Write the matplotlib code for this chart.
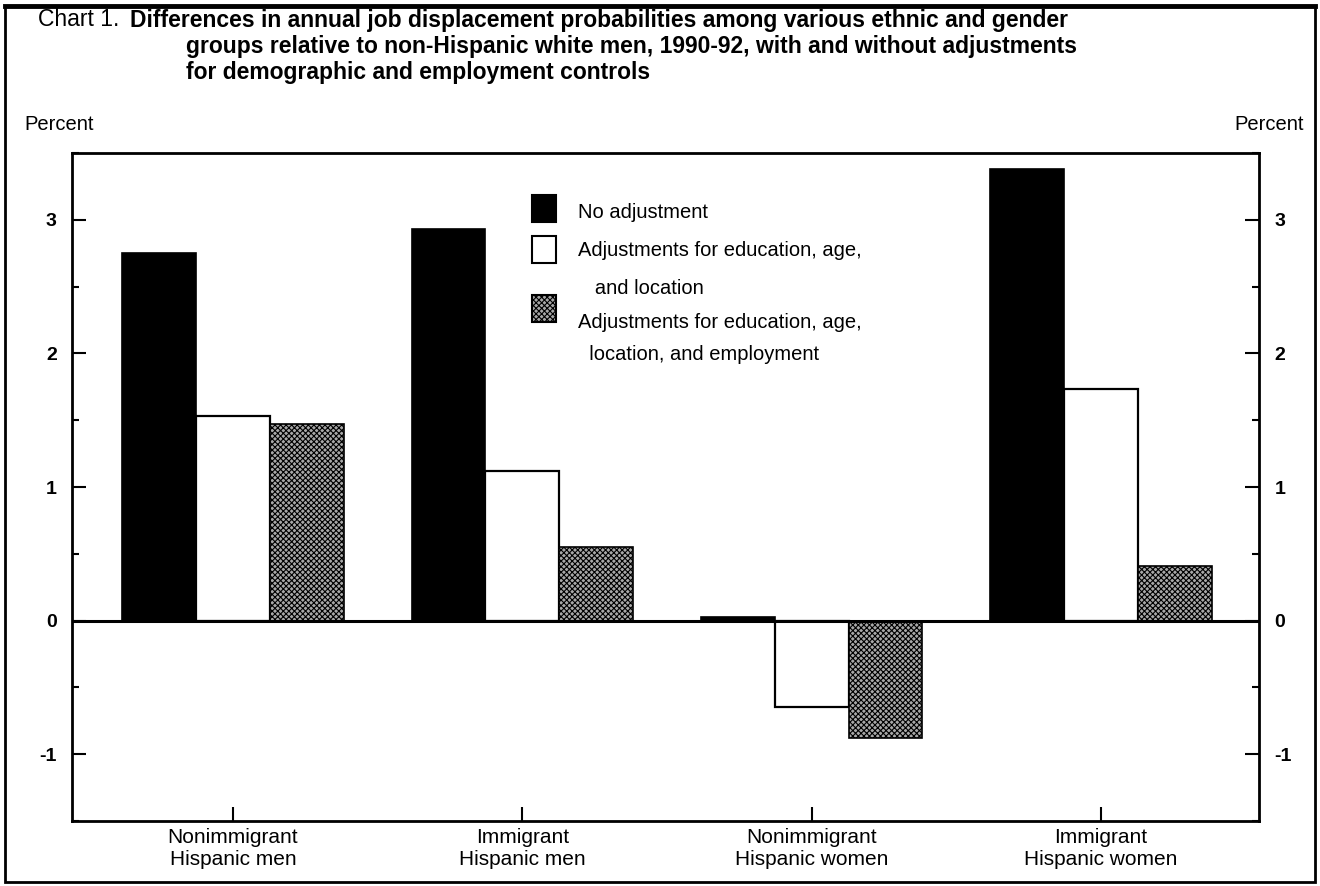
import matplotlib.pyplot as plt
import numpy as np
from matplotlib.patches import Rectangle

plt.rcParams['font.family'] = ['Liberation Sans', 'DejaVu Sans']

groups = ['Nonimmigrant\nHispanic men', 'Immigrant\nHispanic men',
          'Nonimmigrant\nHispanic women', 'Immigrant\nHispanic women']
series = ['No adjustment',
          'Adjustments for education, age,\n   and location',
          'Adjustments for education, age,\n  location, and employment']
no_adj = [2.75, 2.93, 0.03, 3.38]
adj_demo = [1.53, 1.12, -0.65, 1.73]
adj_emp = [1.47, 0.55, -0.88, 0.41]

W, H = 1320, 886
fig = plt.figure(figsize=(W / 100, H / 100), dpi=100)


def px(x, y):
    # pixel coords (from top-left) -> figure fraction
    return x / W, 1 - y / H


ax = fig.add_axes([72 / W, 1 - 821 / H, (1259 - 72) / W, (821 - 153) / H])

x = np.arange(len(groups))
bw = 0.255
plt.rcParams['hatch.color'] = '#3a3a3a'
plt.rcParams['hatch.linewidth'] = 0.8
ax.bar(x - bw, no_adj, bw, color='black', edgecolor='black', linewidth=1.2)
ax.bar(x, adj_demo, bw, color='white', edgecolor='black', linewidth=1.6)
ax.bar(x + bw, adj_emp, bw, color='#a8a8a8', edgecolor='black', linewidth=1.2,
       hatch='xxxxxx')
ax.axhline(0, color='black', lw=2.2, zorder=3)

ax.set_xlim(-0.556, 3.546)
ax.set_ylim(-1.5, 3.5)
ax.set_yticks([-1, 0, 1, 2, 3])
ax.set_yticks(np.arange(-1.5, 3.6, 0.5), minor=True)
ax.set_yticklabels(['-1', '0', '1', '2', '3'], fontweight='bold', fontsize=14)
ax.tick_params(axis='y', which='both', direction='in', left=True, right=True,
               labelleft=True, labelright=True, width=1.5, pad=11)
ax.tick_params(axis='y', which='major', length=10)
ax.tick_params(axis='y', which='minor', length=5)
ax.set_xticks(x)
ax.set_xticklabels(groups, fontsize=15, linespacing=1.2)
ax.tick_params(axis='x', direction='in', length=10, width=1.5, pad=5)
for s in ax.spines.values():
    s.set_linewidth(2)

# legend drawn by hand to keep the squares on the first text line
rows = [(195, [213], 'black', None), (236, [250, 288], 'white', None),
        (295, [323, 355], '#a8a8a8', 'xxxxxx')]
for (sq_y, line_y, fc, hatch), label in zip(rows, series):
    fig.patches.append(Rectangle(px(532, sq_y + 27), 24 / W, 27 / H,
                                 transform=fig.transFigure, facecolor=fc,
                                 edgecolor='black', lw=1.5, hatch=hatch))
    for ty, line in zip(line_y, label.split('\n')):
        fig.text(*px(578, ty), line, fontsize=14.5, va='center', ha='left')

# title
fig.text(*px(38, 20), 'Chart 1.', fontsize=16.5, va='center')
fig.text(*px(130, 20), 'Differences in annual job displacement probabilities among various ethnic and gender',
         fontsize=16.5, fontweight='bold', va='center')
fig.text(*px(186, 46), 'groups relative to non-Hispanic white men, 1990-92, with and without adjustments',
         fontsize=16.5, fontweight='bold', va='center')
fig.text(*px(186, 72), 'for demographic and employment controls',
         fontsize=16.5, fontweight='bold', va='center')
fig.text(*px(24, 124), 'Percent', fontsize=14.5, va='center')
fig.text(*px(1304, 124), 'Percent', fontsize=14.5, va='center', ha='right')

# outer frame
fig.patches.append(Rectangle(px(5, 882), 1310 / W, 876 / H, transform=fig.transFigure,
                             fill=False, edgecolor='black', lw=2))
fig.add_artist(plt.Line2D([5 / W, 1315 / W], [1 - 6 / H] * 2, color='black', lw=3.5))

fig.savefig('out.png', dpi=100)
